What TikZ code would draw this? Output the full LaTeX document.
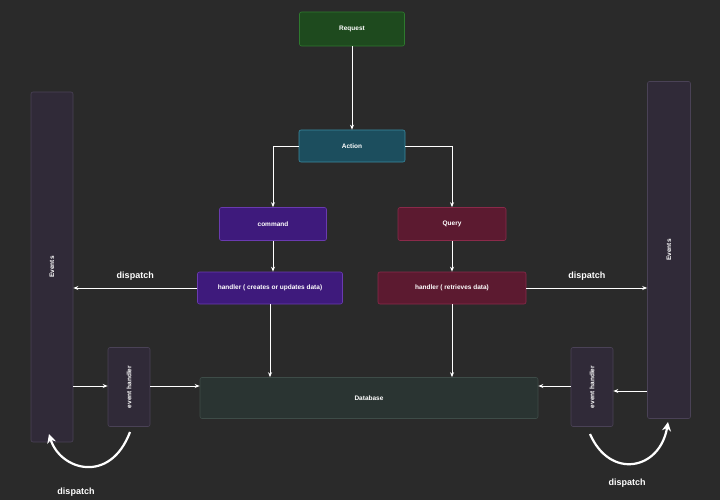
\documentclass[tikz,border=0pt]{standalone}
\usepackage{fontspec}
\setmainfont{Liberation Sans}
\usetikzlibrary{arrows.meta}
\definecolor{bg}{HTML}{2A2A2A}
\definecolor{gf}{HTML}{1E4A1E}\definecolor{gd}{HTML}{2E7A2E}
\definecolor{tf}{HTML}{1C4E5E}\definecolor{td}{HTML}{3A8AA0}
\definecolor{pf}{HTML}{3E1A7C}\definecolor{pd}{HTML}{6A3AB0}
\definecolor{rf}{HTML}{5C1A30}\definecolor{rd}{HTML}{8A2A4A}
\definecolor{ef}{HTML}{302A38}\definecolor{ed}{HTML}{4A4256}
\definecolor{df}{HTML}{2A3432}\definecolor{dd}{HTML}{3E4C48}
\begin{document}
\begin{tikzpicture}[x=1pt,y=-1pt,
 box/.style={draw, line width=0.6pt, rounded corners=2pt, text=white, font=\bfseries\fontsize{6.5}{7}\selectfont, align=center, inner sep=0pt},
 arr/.style={draw=white, line width=0.9pt, -{Stealth[length=5pt,width=4pt]}},
 lab/.style={text=white, font=\bfseries\fontsize{9}{10}\selectfont}]
\fill[bg] (0,0) rectangle (720,500);
\useasboundingbox (0,0) rectangle (720,500);
\node[box, fill=gf, draw=gd, minimum width=105, minimum height=34] (req) at (352,29) {Request};
\node[box, fill=tf, draw=td, minimum width=106, minimum height=32] (act) at (352,146) {Action};
\node[box, fill=pf, draw=pd, minimum width=107, minimum height=33] (cmd) at (273,224) {command};
\node[box, fill=rf, draw=rd, minimum width=108, minimum height=33] (qry) at (452,224) {Query};
\node[box, fill=pf, draw=pd, minimum width=145, minimum height=32] (hc) at (270,288) {handler ( creates or updates data)};
\node[box, fill=rf, draw=rd, minimum width=148, minimum height=32] (hq) at (452,288) {handler ( retrieves data)};
\node[box, fill=ef, draw=ed, minimum width=42, minimum height=350] (evl) at (52,267) {\rotatebox{90}{Events}};
\node[box, fill=ef, draw=ed, minimum width=43, minimum height=337] (evr) at (669,250) {\rotatebox{90}{Events}};
\node[box, fill=ef, draw=ed, minimum width=42, minimum height=79] (ehl) at (129,387) {\rotatebox{90}{event handler}};
\node[box, fill=ef, draw=ed, minimum width=42, minimum height=79] (ehr) at (592,387) {\rotatebox{90}{event handler}};
\node[box, fill=df, draw=dd, minimum width=338, minimum height=41] (db) at (369,398) {Database};
\draw[arr] (req) -- (act);
\draw[arr] (act.west) -| (cmd.north);
\draw[arr] (act.east) -| (qry.north);
\draw[arr] (cmd) -- (cmd|-hc.north);
\draw[arr] (qry) -- (qry|-hq.north);
\draw[arr] (hc.west) -- (hc.west-|evl.east) node[lab, midway, above=4pt] {dispatch};
\draw[arr] (hq.east) -- (hq.east-|evr.west) node[lab, midway, above=4pt] {dispatch};
\draw[arr] (hc.south) -- (hc.south|-db.north);
\draw[arr] (hq.south) -- (hq.south|-db.north);
\draw[arr] (evl.east|-0,386) -- (ehl.west|-0,386);
\draw[arr] (ehl.east|-0,386) -- (db.west|-0,386);
\draw[arr] (ehr.west|-0,386) -- (db.east|-0,386);
\draw[arr] (evr.west|-0,391) -- (ehr.east|-0,391);
\coordinate (cl1) at (130,432); \coordinate (cl2) at (49,434);
\coordinate (cr1) at (590,434); \coordinate (cr2) at (668,422);
\draw[draw=white, line width=2.2pt, -{Stealth[length=9pt,width=9pt]}] (cl1) .. controls (110,485) and (60,470) .. (cl2);
\draw[draw=white, line width=2.2pt, -{Stealth[length=9pt,width=9pt]}] (cr1) .. controls (610,480) and (660,470) .. (cr2);
\node[lab] (d3) at (76,492) {dispatch};
\node[lab] (d4) at (627,483) {dispatch};
\end{tikzpicture}
\end{document}
